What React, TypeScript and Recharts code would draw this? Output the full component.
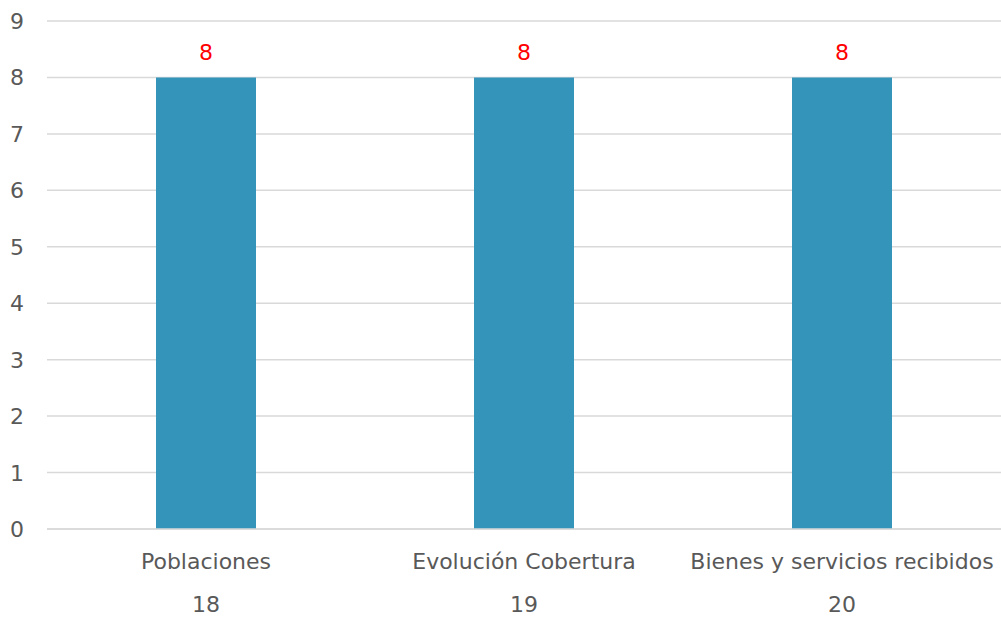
import { BarChart, Bar, XAxis, YAxis, CartesianGrid, LabelList } from "recharts";

const categories = ["Poblaciones", "Evolución Cobertura", "Bienes y servicios recibidos"];
const groups = ["18", "19", "20"];
const values = [8, 8, 8];
const yTicks = [0, 1, 2, 3, 4, 5, 6, 7, 8, 9];

const data = categories.map((name, i) => ({ name, group: groups[i], value: values[i] }));

const FONT = "'DejaVu Sans', sans-serif";
const TEXT = "#595959";

const CategoryTick = (props: any) => {
  const { x, y, index } = props;
  return (
    <g>
      <text x={x} y={y + 32} textAnchor="middle" fill={TEXT} fontSize={22} fontFamily={FONT}>
        {categories[index]}
      </text>
      <text x={x} y={y + 75} textAnchor="middle" fill={TEXT} fontSize={22} fontFamily={FONT}>
        {groups[index]}
      </text>
    </g>
  );
};

const ValueTick = (props: any) => {
  const { y, payload } = props;
  return (
    <text x={24} y={y + 8} textAnchor="end" fill={TEXT} fontSize={22} fontFamily={FONT}>
      {payload.value}
    </text>
  );
};

export default function App() {
  return (
    <div style={{ position: "absolute", left: 0, top: 0, width: 1001, height: 617, background: "#fff" }}>
      <BarChart width={1001} height={617} data={data} margin={{ top: 21, right: 0, left: 0, bottom: 0 }}>
        <CartesianGrid vertical={false} stroke="#d9d9d9" strokeWidth={1.5} />
        <XAxis dataKey="name" axisLine={{ stroke: "#d9d9d9", strokeWidth: 1.5 }} tickLine={false}
          tick={<CategoryTick />} interval={0} height={88} />
        <YAxis domain={[0, 9]} ticks={yTicks} axisLine={false} tickLine={false} width={47}
          tick={<ValueTick />} interval={0} />
        <Bar dataKey="value" fill="#3494BA" barSize={100} isAnimationActive={false}>
          <LabelList dataKey="value" position="top" offset={17} fill="#FF0000" fontSize={22} fontFamily={FONT} />
        </Bar>
      </BarChart>
    </div>
  );
}
